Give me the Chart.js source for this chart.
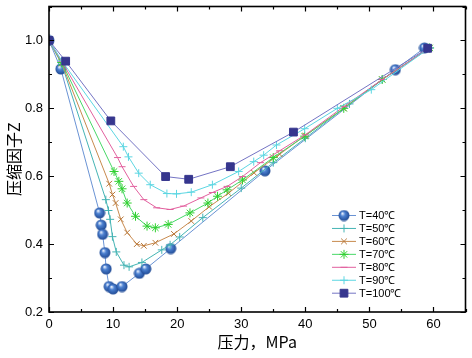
<!DOCTYPE html>
<html><head><meta charset="utf-8">
<script src="https://cdn.jsdelivr.net/npm/chart.js@4/dist/chart.umd.min.js"></script>
<style>html,body{margin:0;padding:0;background:#fff}#wrap{width:472px;height:358px;position:relative}</style>
</head><body><div id="wrap"><canvas id="c" width="472" height="358"></canvas></div>
<script>
// ---- data (pressure MPa, compressibility factor Z) ----
const p40=[0,1.85,7.9,8.15,8.36,8.72,8.92,9.38,10.0,11.4,14.1,15.1,19.0,33.7,54.05,58.6];
const z40=[1.0,0.916,0.492,0.456,0.429,0.375,0.327,0.275,0.268,0.275,0.314,0.327,0.387,0.616,0.914,0.978];
const p50=[0,2.0,8.87,9.28,9.54,9.9,10.5,11.7,12.5,14.5,17.6,18.9,20.4,24,30,35,40,46.9,52,59.4];
const z50=[1.0,0.93,0.531,0.499,0.473,0.422,0.377,0.338,0.333,0.346,0.383,0.398,0.421,0.478,0.565,0.64,0.712,0.813,0.885,0.978];
const p60=[0,2.0,9.4,9.9,10.4,11.2,12.2,13.7,14.8,16.6,19.5,22.2,25,28,32,36,40,46,52,59.4];
const z60=[1.0,0.932,0.578,0.546,0.521,0.473,0.434,0.400,0.395,0.404,0.43,0.468,0.51,0.55,0.61,0.665,0.72,0.80,0.885,0.978];
const p70=[0,2.0,10.15,10.9,11.4,12.2,13.5,15.3,16.6,18.6,22.0,24.8,26.3,27.8,30.2,35,39.9,46,52,59.4];
const z70=[1.0,0.935,0.614,0.585,0.563,0.521,0.482,0.453,0.448,0.458,0.492,0.521,0.541,0.560,0.589,0.655,0.718,0.80,0.885,0.978];
const p80=[0,2.0,10.7,11.4,13.2,14.8,16.8,18.9,21.0,23.7,25.5,27.8,30.2,33.0,36,40,46,52,59.4];
const z80=[1.0,0.938,0.655,0.628,0.570,0.531,0.507,0.502,0.512,0.536,0.552,0.570,0.599,0.640,0.675,0.722,0.805,0.885,0.978];
const p90=[0,2.0,11.6,12.4,14.0,15.8,18.4,19.9,22.2,25.5,29.6,31.95,33.5,35.5,39.9,45,50.3,59.4];
const z90=[1.0,0.94,0.687,0.657,0.609,0.575,0.549,0.548,0.553,0.575,0.614,0.643,0.662,0.692,0.740,0.80,0.855,0.978];
const p100=[0,2.6,9.65,18.2,21.8,28.3,38.15,59.1];
const z100=[1.0,0.939,0.763,0.599,0.591,0.628,0.730,0.977];
const seriesLabels=['T=40℃','T=50℃','T=60℃','T=70℃','T=80℃','T=90℃','T=100℃'];
const xTicks=[0,10,20,30,40,50,60];
const yTicks=[0.2,0.4,0.6,0.8,1.0];
const xTitle='压力，MPa';
const yTitle='压缩因子Z';

function ball(){
  const c=document.createElement('canvas');c.width=12;c.height=12;
  const g=c.getContext('2d');
  const gr=g.createRadialGradient(4.3,3.8,0.3,6,6,6);
  gr.addColorStop(0,'#eef4ff');gr.addColorStop(0.35,'#4d82d2');gr.addColorStop(1,'#1b448e');
  g.fillStyle=gr;g.beginPath();g.arc(6,6,5.5,0,Math.PI*2);g.fill();
  return c;
}
const ballImg=ball();
const pts=(xs,ys)=>xs.map((x,i)=>({x:x,y:ys[i]}));
const styles=[
  {line:'#6a93d4',pt:'#2d5fb0',ps:ballImg,r:5.5},
  {line:'#45b4b4',pt:'#45b4b4',ps:'cross',r:4},
  {line:'#c88a4e',pt:'#b8783a',ps:'crossRot',r:4},
  {line:'#48d868',pt:'#30d030',ps:'star',r:4.5},
  {line:'#e2609e',pt:'#e2609e',ps:'line',r:3.5},
  {line:'#5cd6e2',pt:'#5cd6e2',ps:'cross',r:4},
  {line:'#7474c4',pt:'#36368e',ps:'rect',r:5.5}
];
const xs=[p40,p50,p60,p70,p80,p90,p100], ys=[z40,z50,z60,z70,z80,z90,z100];
const datasets=seriesLabels.map((l,i)=>({
  label:l,data:pts(xs[i],ys[i]),borderColor:styles[i].line,borderWidth:1,
  pointStyle:styles[i].ps,pointRadius:styles[i].r,pointBorderColor:styles[i].pt,
  pointBackgroundColor:styles[i].pt,pointBorderWidth:1,tension:0,fill:false
})).reverse();

const deco={
  id:'deco',
  afterDraw(chart){
    const ctx=chart.ctx, a=chart.chartArea, xs_=chart.scales.x, ys_=chart.scales.y;
    ctx.save();
    ctx.strokeStyle='#000';ctx.lineWidth=1.2;
    const maj=5,min=3;
    ctx.beginPath();
    for(let v=0;v<=65;v+=5){
      const x=Math.round(xs_.getPixelForValue(v))+0.5, L=(v%10===0)?maj:min;
      ctx.moveTo(x,a.bottom);ctx.lineTo(x,a.bottom-L);
      ctx.moveTo(x,a.top);ctx.lineTo(x,a.top+L);
    }
    for(let k=2;k<=11;k++){
      const v=k/10, y=Math.round(ys_.getPixelForValue(v))+0.5, L=(k%2===0)?maj:min;
      ctx.moveTo(a.left,y);ctx.lineTo(a.left+L,y);
      ctx.moveTo(a.right,y);ctx.lineTo(a.right-L,y);
    }
    ctx.stroke();
    ctx.lineWidth=1.6;
    ctx.strokeRect(a.left,a.top,a.right-a.left,a.bottom-a.top);
    ctx.fillStyle='#000';
    ctx.font='16px "Noto Sans CJK SC", "Liberation Sans", sans-serif';
    ctx.textAlign='center';ctx.textBaseline='middle';
    ctx.fillText(xTitle,(a.left+a.right)/2,342);
    ctx.save();ctx.translate(14,(a.top+a.bottom)/2);ctx.rotate(-Math.PI/2);
    ctx.fillText(yTitle,0,0);ctx.restore();
    ctx.font='11px "Liberation Sans", Arial, sans-serif';
    ctx.textAlign='left';ctx.textBaseline='middle';
    const lx0=332,lx1=356,ly0=215,dy=12.95;
    seriesLabels.forEach((l,i)=>{
      const s=styles[i], y=ly0+i*dy;
      ctx.strokeStyle=s.line;ctx.lineWidth=1;
      ctx.beginPath();ctx.moveTo(lx0,y+0.5);ctx.lineTo(lx1,y+0.5);ctx.stroke();
      ctx.strokeStyle=s.pt;ctx.fillStyle=s.pt;
      Chart.helpers.drawPoint(ctx,{pointStyle:s.ps,radius:s.r,rotation:0,borderWidth:1},(lx0+lx1)/2,y+0.5);
      ctx.fillStyle='#000';
      ctx.fillText(l,359,y+1);
    });
    ctx.restore();
  }
};

new Chart(document.getElementById('c'),{
  type:'line',
  data:{datasets:datasets},
  options:{
    responsive:false,animation:false,
    layout:{padding:{left:0,right:1,top:3,bottom:0}},
    plugins:{legend:{display:false},tooltip:{enabled:false}},
    scales:{
      x:{type:'linear',min:0,max:65,
        afterBuildTicks:s=>{s.ticks=xTicks.map(v=>({value:v}));},
        afterFit:s=>{s.height=46;s.paddingLeft=0;s.paddingRight=0;},
        grid:{display:false,drawTicks:false},border:{display:false},
        ticks:{padding:5,color:'#000',font:{family:'"Liberation Sans", Arial, sans-serif',size:13},callback:v=>String(v)}},
      y:{type:'linear',min:0.2,max:1.1,
        afterBuildTicks:s=>{s.ticks=yTicks.map(v=>({value:v}));},
        afterFit:s=>{s.width=49;s.paddingTop=0;s.paddingBottom=0;},
        grid:{display:false,drawTicks:false},border:{display:false},
        ticks:{padding:6,color:'#000',font:{family:'"Liberation Sans", Arial, sans-serif',size:13},callback:v=>Number(v).toFixed(1)}}
    }
  },
  plugins:[deco]
});
</script></body></html>
